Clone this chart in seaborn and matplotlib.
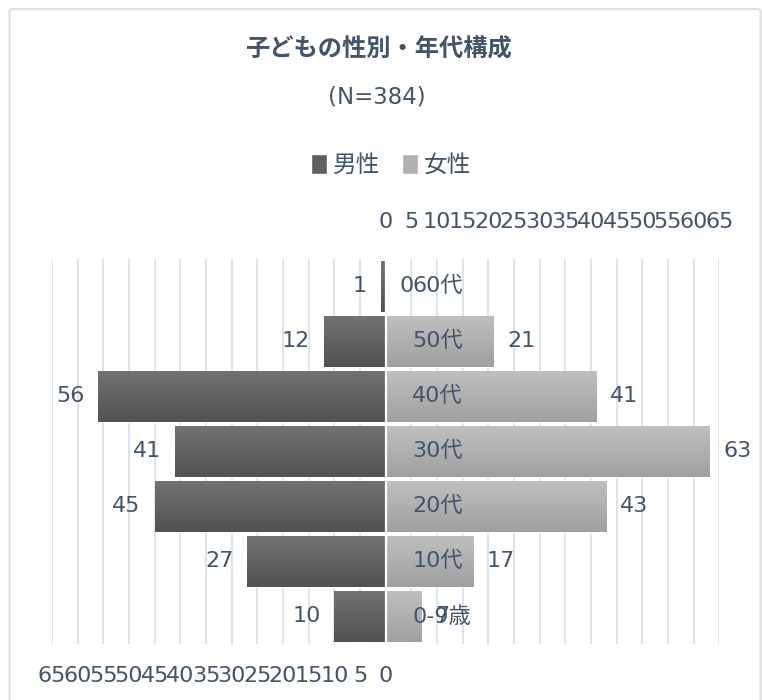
import numpy as np
import pandas as pd
import matplotlib
matplotlib.use("Agg")
import matplotlib.pyplot as plt
import seaborn as sns
from matplotlib.patches import Rectangle, FancyBboxPatch
from matplotlib.colors import LinearSegmentedColormap

# Age groups (top to bottom) and head counts per sex
ages = ["60代", "50代", "40代", "30代", "20代", "10代", "0-9歳"]
male = [1, 12, 56, 41, 45, 27, 10]
female = [0, 21, 41, 63, 43, 17, 7]
series = ["男性", "女性"]
axis_ticks = list(range(0, 70, 5))

title = "子どもの性別・年代構成"
subtitle = "(N=384)"

TEXT = "#44546a"
GRID = "#d9e0ea"
MALE_TOP, MALE_BOTTOM = "#727272", "#525252"
FEMALE_TOP, FEMALE_BOTTOM = "#bfbfbf", "#a0a0a0"
FS = 16

sns.set_theme(style="white")
plt.rcParams["font.family"] = ["DejaVu Sans", "Noto Sans CJK JP"]

df = pd.DataFrame({
    "age": ages * 2,
    "sex": [series[0]] * len(ages) + [series[1]] * len(ages),
    "count": male + female,
})
# men drawn to the left of zero, women to the right
df["signed"] = np.where(df["sex"] == series[0], -df["count"], df["count"])

W, H = 762, 700
fig = plt.figure(figsize=(W / 100, H / 100), dpi=100)
fig.patch.set_facecolor("white")
ax = fig.add_axes([52 / W, 1 - 643.8 / H, 667.4 / W, 385 / H])

sns.barplot(data=df, x="signed", y="age", hue="sex", order=ages,
            hue_order=series, dodge=False, orient="h",
            palette=[MALE_BOTTOM, FEMALE_BOTTOM], width=0.92,
            legend=False, ax=ax, zorder=2)

# vertical gradient fill on every bar
grad = np.linspace(0, 1, 128).reshape(-1, 1)
for container, (ctop, cbot) in zip(ax.containers,
                                   [(MALE_TOP, MALE_BOTTOM),
                                    (FEMALE_TOP, FEMALE_BOTTOM)]):
    cmap = LinearSegmentedColormap.from_list("shade", [ctop, cbot])
    for bar in container:
        w = bar.get_width()
        if w == 0:
            continue
        x0 = bar.get_x()
        y0, h = bar.get_y(), bar.get_height()
        xa, xb = sorted([x0, x0 + w])
        ax.imshow(grad, cmap=cmap, extent=(xa, xb, y0 + h, y0),
                  origin="upper", aspect="auto", interpolation="bilinear",
                  zorder=2.5)

# value labels outside the bar ends
for container in ax.containers:
    labels = [f"{abs(b.get_width()):.0f}" for b in container]
    ax.bar_label(container, labels=labels, padding=10, color=TEXT,
                 fontsize=FS)

# age labels just right of the zero line
for i, age in enumerate(ages):
    ax.text(5.2, i, age, ha="left", va="center", color=TEXT, fontsize=FS,
            zorder=6)

ax.axvline(0, color="white", lw=1.6, zorder=5)

ax.set_xlim(-65, 65)
ax.set_ylim(len(ages) - 0.5, -0.5)
ticks = sorted(set([-t for t in axis_ticks] + axis_ticks))
ax.set_xticks(ticks)
ax.set_xticklabels([str(-t) if t <= 0 else "" for t in ticks])
ax.grid(axis="x", color=GRID, lw=1.3, zorder=0)
ax.set_axisbelow(True)
ax.set_yticks([])
ax.set_xlabel("")
ax.set_ylabel("")
ax.tick_params(axis="x", length=0, pad=16, labelsize=FS, colors=TEXT)
for s in ax.spines.values():
    s.set_visible(False)

top = ax.secondary_xaxis("top")
top.set_xticks(axis_ticks)
top.set_xticklabels([str(t) for t in axis_ticks])
top.tick_params(axis="x", length=0, pad=19, labelsize=FS, colors=TEXT)
for s in top.spines.values():
    s.set_visible(False)

# titles
fig.text(378 / W, 1 - 50 / H, title, ha="center", va="center", fontsize=17.5,
         fontweight="bold", color=TEXT)
fig.text(377 / W, 1 - 97 / H, subtitle, ha="center", va="center",
         fontsize=16.5, color=TEXT)

# legend
handles = [Rectangle((0, 0), 1, 1, facecolor="#606060"),
           Rectangle((0, 0), 1, 1, facecolor="#b0b0b0")]
fig.legend(handles, series, loc="center", bbox_to_anchor=(391 / W, 1 - 165 / H),
           ncol=2, frameon=False, fontsize=17, handlelength=0.7,
           handleheight=0.9, handletextpad=0.25, columnspacing=0.9,
           labelcolor=TEXT)

# chart frame
fig.patches.append(FancyBboxPatch((9.5 / W, -0.05), (760.5 - 9.5) / W,
                                  1.05 - 9 / H,
                                  boxstyle="round,pad=0,rounding_size=0.004",
                                  transform=fig.transFigure, fill=False,
                                  edgecolor="#dde1e7", lw=1.5))

fig.savefig("out.png", dpi=100)
